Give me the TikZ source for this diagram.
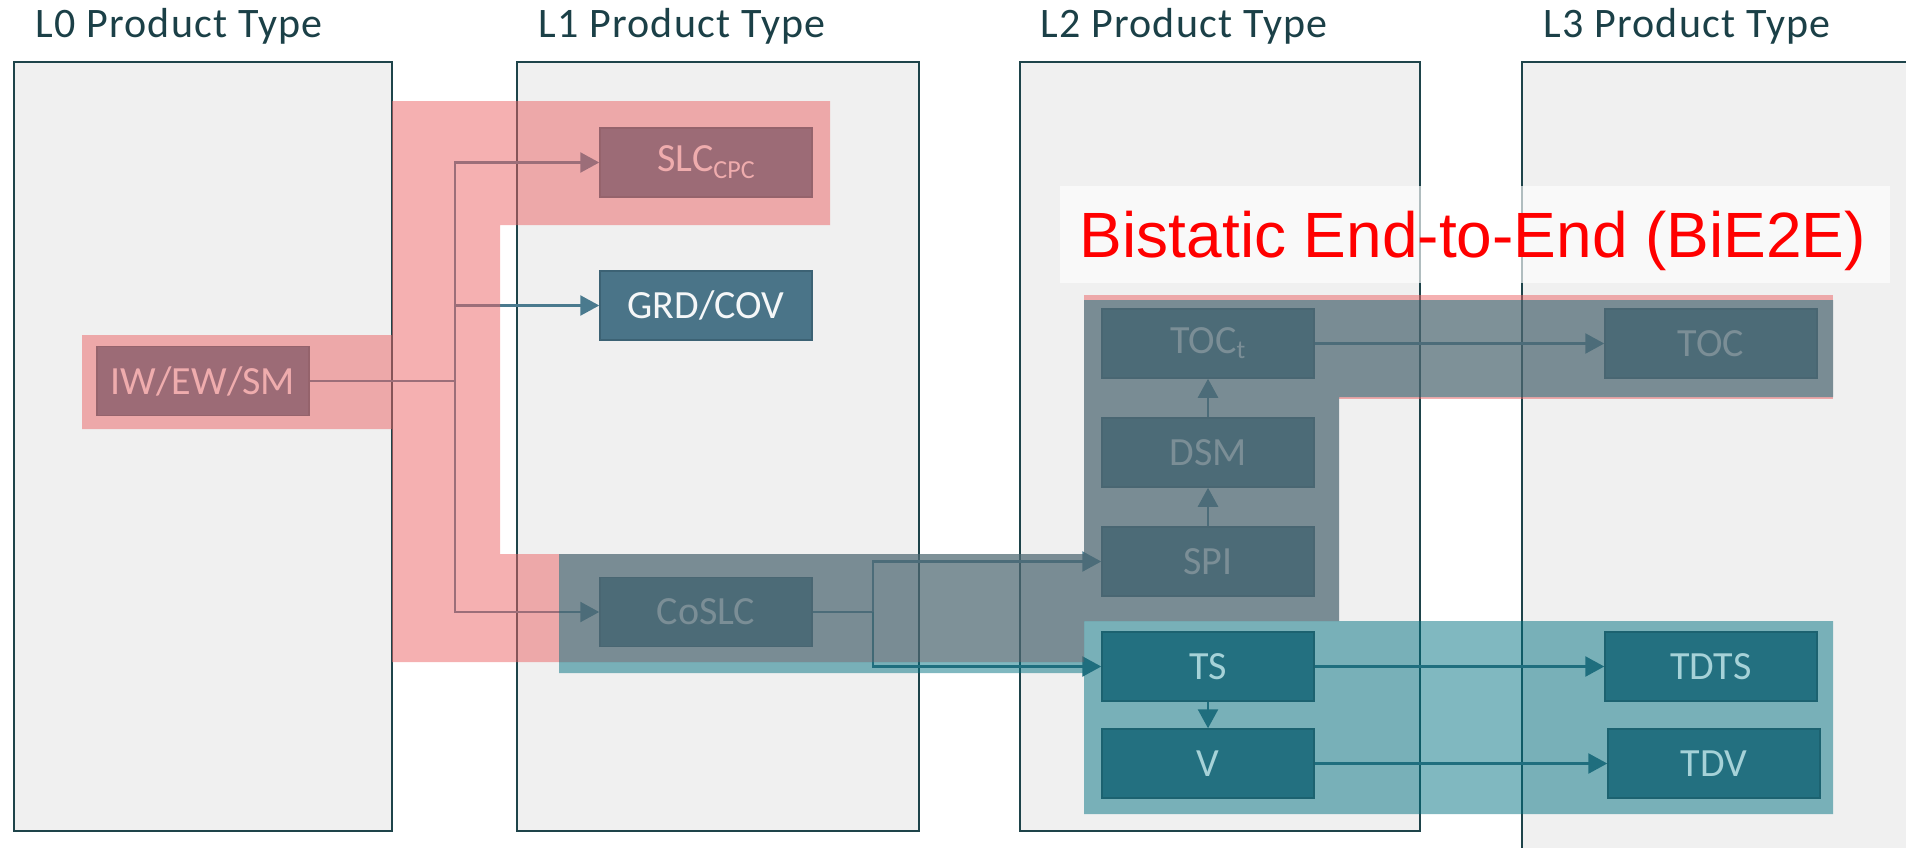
\documentclass[tikz,border=0pt]{standalone}
\usepackage{fontspec}
\setmainfont{Carlito}
\newfontfamily\titlefont[LetterSpace=3]{Carlito}
\newfontfamily\labelfont{Liberation Sans}
\usetikzlibrary{arrows.meta}
\definecolor{colfill}{RGB}{240,240,240}
\definecolor{colline}{RGB}{30,68,74}
\definecolor{titlec}{RGB}{27,64,71}
\definecolor{nodefill}{RGB}{74,116,136}
\definecolor{nodedraw}{RGB}{60,98,116}
\definecolor{nodetext}{RGB}{245,247,248}
\definecolor{linec}{RGB}{74,122,142}
\definecolor{tealnode}{RGB}{35,112,128}
\definecolor{tealdraw}{RGB}{28,98,112}
\definecolor{tealtext}{RGB}{166,210,216}
\definecolor{tealline}{RGB}{31,110,126}
\definecolor{tealband}{RGB}{2,114,130}
\definecolor{pinkov}{RGB}{235,100,102}
\definecolor{grayov}{RGB}{78,104,114}
\begin{document}
\begin{tikzpicture}[x=1pt,y=-1pt,
  colbox/.style={fill=colfill,draw=colline,line width=2pt},
  ttl/.style={anchor=base west,text=titlec,inner sep=0pt,font=\titlefont\fontsize{42}{50}\selectfont},
  prodbox/.style={draw=nodedraw,fill=nodefill,line width=1.5pt,minimum width=212pt,minimum height=69pt,inner sep=0pt,text=nodetext,font=\fontsize{40}{48}\selectfont},
  tprodbox/.style={prodbox,draw=tealdraw,fill=tealnode,text=tealtext},
  connline/.style={draw=linec,line width=2.6pt},
  connarrow/.style={connline,-{Triangle[length=19pt,width=20pt]}},
  tconnarrow/.style={connarrow,draw=tealline},
  pinkarea/.style={fill=pinkov,fill opacity=0.51},
  grayarea/.style={fill=grayov,fill opacity=0.73},
  tealarea/.style={fill=tealband,fill opacity=0.5}
]
\useasboundingbox (0,0) rectangle (1906,847);
\clip (0,0) rectangle (1906,847);

% columns
\draw[colbox] (14,62) rectangle (392,831);
\draw[colbox] (517,62) rectangle (919,831);
\draw[colbox] (1019.5,62) rectangle (1419.5,831);
\draw[colbox] (1522,62) rectangle (1950,890);

% titles
\node[ttl] (t0) at (35,37.5) {L0 Product Type};
\node[ttl] (t1) at (538,37.5) {L1 Product Type};
\node[ttl] (t2) at (1040,37.5) {L2 Product Type};
\node[ttl] (t3) at (1543,37.5) {L3 Product Type};

% teal band
\fill[tealarea] (559,662) -- (1084,662) -- (1084,621) -- (1833,621) -- (1833,814) -- (1084,814) -- (1084,673) -- (559,673) -- cycle;

% nodes
\node[prodbox] (iw) at (203,381) {IW/EW/SM};
\node[prodbox] (slc) at (706,162.5) {SLC\raisebox{-7pt}{\fontsize{26}{30}\selectfont CPC}};
\node[prodbox] (grd) at (706,305.5) {GRD/COV};
\node[prodbox] (coslc) at (706,612) {CoSLC};
\node[prodbox] (toct) at (1208,343.5) {TOC\raisebox{-5pt}{\fontsize{26}{30}\selectfont t}};
\node[prodbox] (dsm) at (1208,452.5) {DSM};
\node[prodbox] (spi) at (1208,561.5) {SPI};
\node[prodbox] (toc) at (1711,343.5) {TOC};
\node[tprodbox] (ts) at (1208,666.5) {TS};
\node[tprodbox] (v) at (1208,763.5) {V};
\node[tprodbox] (tdts) at (1711,666.5) {TDTS};
\node[tprodbox] (tdv) at (1714,763.5) {TDV};

% connectors
\coordinate (j1) at (455,381);
\coordinate (j2) at (873,612);
\draw[connline] (iw.east) -- (j1);
\draw[connarrow] (j1) |- (slc.west);
\draw[connarrow] (j1) |- (grd.west);
\draw[connarrow] (j1) |- (coslc.west);
\draw[connline] (coslc.east) -- (j2);
\draw[connarrow] (j2) |- (spi.west);
\draw[tconnarrow] (j2) |- (ts.west);
\draw[connarrow] (spi) -- (dsm);
\draw[connarrow] (dsm) -- (toct);
\draw[connarrow] (toct) -- (toc);
\draw[tconnarrow] (ts) -- (v);
\draw[tconnarrow] (ts) -- (tdts);
\draw[tconnarrow] (v) -- (tdv);

% pink overlay
\fill[pinkarea] (82,335) -- (392,335) -- (392,101) -- (830,101) -- (830,225) -- (500,225) -- (500,554) -- (559,554) -- (559,662) -- (392,662) -- (392,429) -- (82,429) -- cycle;
\fill[pinkarea] (1084,295) rectangle (1833,300);
\fill[pinkarea] (1339,397) rectangle (1833,399);

% gray overlay
\fill[grayarea] (559,554) -- (1084,554) -- (1084,300) -- (1833,300) -- (1833,397) -- (1339,397) -- (1339,621) -- (1084,621) -- (1084,662) -- (559,662) -- cycle;

% label
\node[fill=white,fill opacity=0.65,minimum width=830pt,minimum height=97pt,inner sep=0pt] (bie) at (1475,234.5) {};
\node[anchor=base,inner sep=0pt,text=red,font=\labelfont\fontsize{64}{72}\selectfont] (bietext) at (1473,257) {Bistatic End-to-End (BiE2E)};
\end{tikzpicture}
\end{document}
